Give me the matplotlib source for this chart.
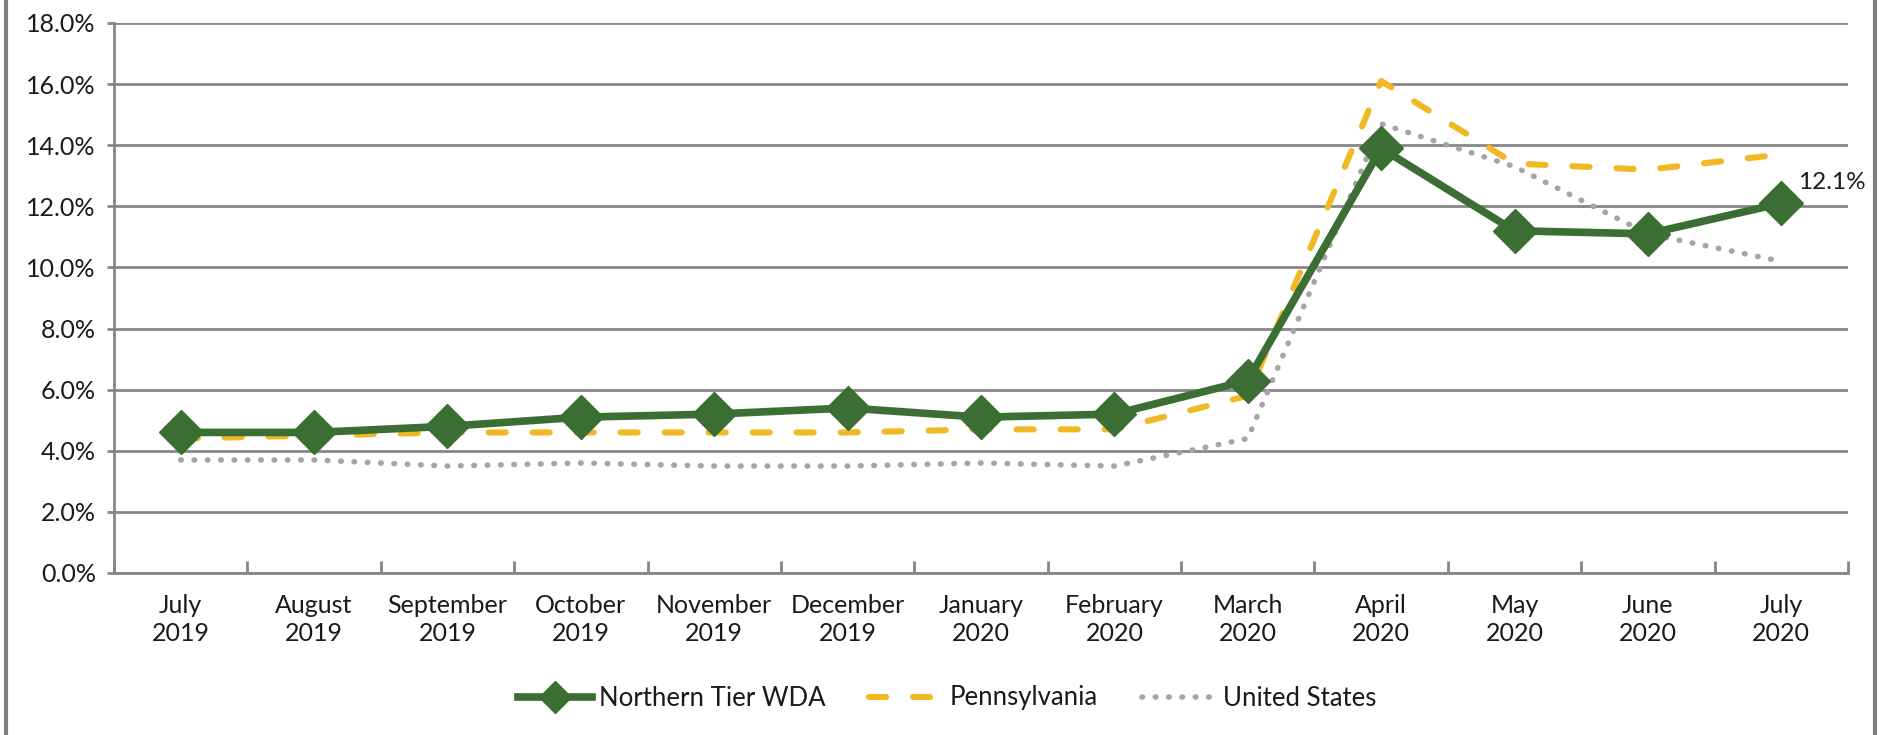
import numpy as np
import matplotlib.pyplot as plt
from matplotlib.patches import Rectangle
from matplotlib.ticker import FuncFormatter

months = ["July\n2019", "August\n2019", "September\n2019", "October\n2019",
          "November\n2019", "December\n2019", "January\n2020", "February\n2020",
          "March\n2020", "April\n2020", "May\n2020", "June\n2020", "July\n2020"]
northern_tier = [4.6, 4.6, 4.8, 5.1, 5.2, 5.4, 5.1, 5.2, 6.3, 13.9, 11.2, 11.1, 12.1]
pennsylvania = [4.4, 4.5, 4.6, 4.6, 4.6, 4.6, 4.7, 4.7, 5.8, 16.1, 13.4, 13.2, 13.7]
united_states = [3.7, 3.7, 3.5, 3.6, 3.5, 3.5, 3.6, 3.5, 4.4, 14.7, 13.3, 11.1, 10.2]

green = "#3b6e32"
yellow = "#f0b823"
grey = "#a5a5a5"
axis_grey = "#868686"
text_col = "#1a1a1a"

plt.rcParams['font.family'] = ['Lato', 'DejaVu Sans']

fig = plt.figure(figsize=(18.85, 7.35), dpi=100)
ax = fig.add_axes([114/1885, 1 - 573/735, (1848-114)/1885, (573-23)/735])

x = np.arange(len(months))
ax.plot(x, united_states, color=grey, lw=4.0, ls=(0, (0.1, 2.3)),
        dash_capstyle='round', label="United States", zorder=3)
ax.plot(x, pennsylvania, color=yellow, lw=4.4, ls=(0, (2.8, 4.4)),
        dash_capstyle='round', label="Pennsylvania", zorder=4)
ax.plot(x, northern_tier, color=green, lw=5.5, marker='D', markersize=22,
        label="Northern Tier WDA", zorder=5)

ax.annotate(f"{northern_tier[-1]:.1f}%", (x[-1], northern_tier[-1]),
            xytext=(12, 15), textcoords='offset points', fontsize=17.5,
            color=text_col, va='center', ha='left')

ax.set_xlim(-0.5, len(months) - 0.5)
ax.set_ylim(0, 18)
ax.set_yticks(np.arange(0, 18.1, 2))
ax.yaxis.set_major_formatter(FuncFormatter(lambda v, p: f"{v:.1f}%"))
ax.grid(axis='y', color=axis_grey, lw=2)
ax.set_axisbelow(True)

ax.set_xticks(x)
ax.set_xticklabels(months, fontsize=18, color=text_col, linespacing=1.25)
ax.set_xticks(np.arange(-0.5, len(months)), minor=True)
ax.tick_params(axis='x', which='major', length=0, pad=15)
ax.tick_params(axis='x', which='minor', length=9, width=2, color=axis_grey, direction='in')
ax.tick_params(axis='y', length=5, width=2, color=axis_grey, labelsize=18,
               labelcolor=text_col, pad=8)

for s in ['top', 'right']:
    ax.spines[s].set_visible(False)
for s in ['left', 'bottom']:
    ax.spines[s].set_color(axis_grey)
    ax.spines[s].set_linewidth(2)

handles, labels = ax.get_legend_handles_labels()
order = [2, 1, 0]
fig.legend([handles[i] for i in order], [labels[i] for i in order],
           loc='center', bbox_to_anchor=(947/1885, 1 - 698/735), ncol=3,
           frameon=False, fontsize=18.5, handlelength=2.9, columnspacing=1.7,
           handletextpad=0.25, markerscale=0.75, labelcolor=text_col)

fig.patches.append(Rectangle((6/1885, -0.1), (1875-6)/1885, 1.3, transform=fig.transFigure,
                             fill=False, edgecolor='#7f7f7f', lw=3))

fig.savefig("out.png", dpi=100)
